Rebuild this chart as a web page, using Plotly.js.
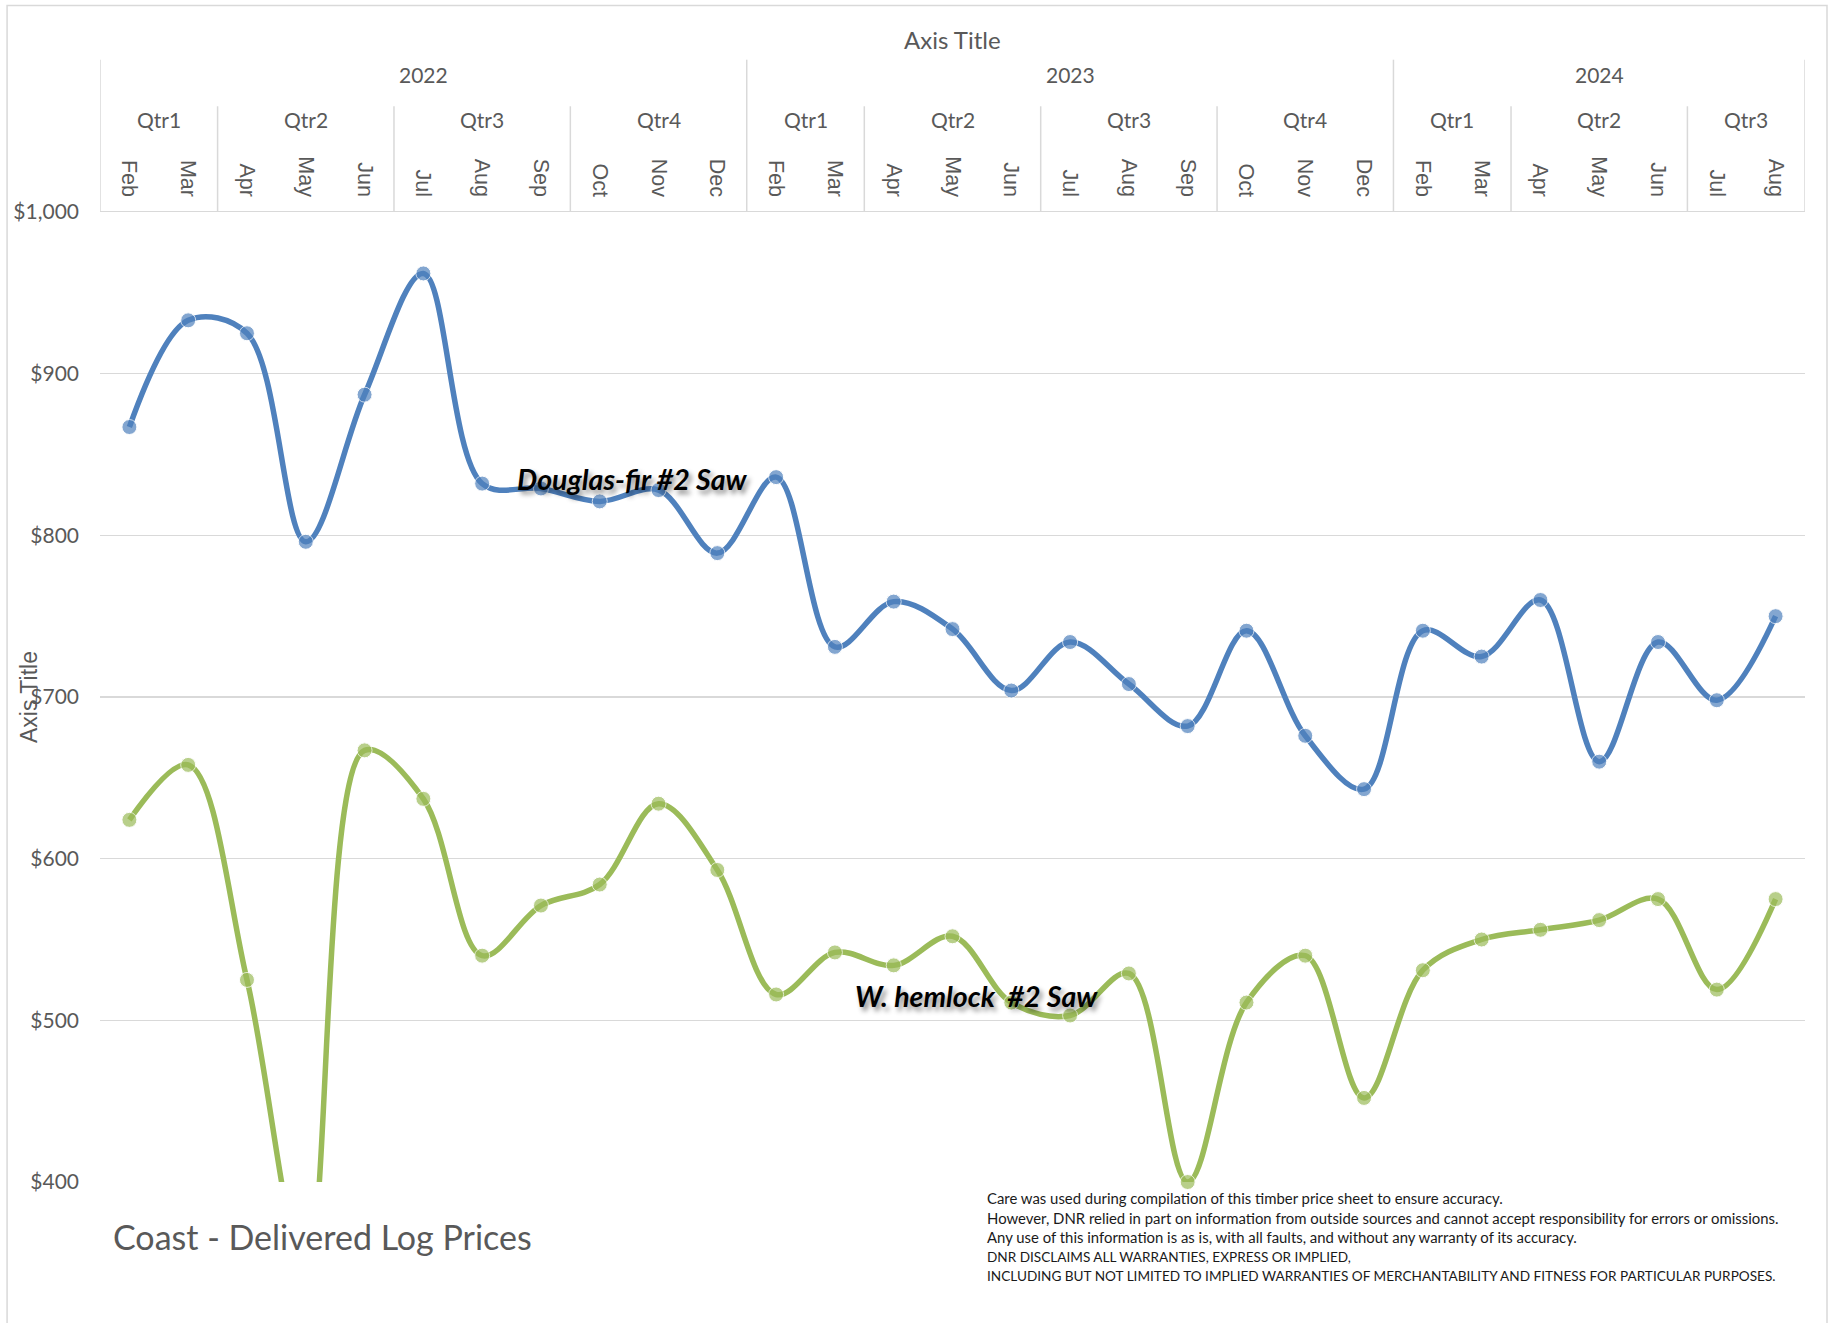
<!DOCTYPE html>
<html><head><meta charset="utf-8">
<script src="https://cdn.plot.ly/plotly-3.0.1.min.js"></script>
<style>html,body{margin:0;padding:0;background:#fff}#chart{width:1833px;height:1323px}</style>
</head><body><div id="chart"></div>
<script>
// ---- data ----
const months = ['Feb','Mar','Apr','May','Jun','Jul','Aug','Sep','Oct','Nov','Dec',
                'Feb','Mar','Apr','May','Jun','Jul','Aug','Sep','Oct','Nov','Dec',
                'Feb','Mar','Apr','May','Jun','Jul','Aug'];
const quarters = ['Qtr1','Qtr1','Qtr2','Qtr2','Qtr2','Qtr3','Qtr3','Qtr3','Qtr4','Qtr4','Qtr4',
                  'Qtr1','Qtr1','Qtr2','Qtr2','Qtr2','Qtr3','Qtr3','Qtr3','Qtr4','Qtr4','Qtr4',
                  'Qtr1','Qtr1','Qtr2','Qtr2','Qtr2','Qtr3','Qtr3'];
const years = ['2022','2022','2022','2022','2022','2022','2022','2022','2022','2022','2022',
               '2023','2023','2023','2023','2023','2023','2023','2023','2023','2023','2023',
               '2024','2024','2024','2024','2024','2024','2024'];
const douglasFir = [867,933,925,796,887,962,832,829,821,828,789,
                    836,731,759,742,704,734,708,682,741,676,643,
                    741,725,760,660,734,698,750];
const hemlock = [624,658,525,345,667,637,540,571,584,634,593,
                 516,542,534,552,511,503,529,400,511,540,452,
                 531,550,556,562,575,519,575];
const seriesNames = ['Douglas-fir #2 Saw','W. hemlock  #2 Saw'];
const yMin = 400, yMax = 1000;

// ---- build ----
const idx = months.map((_, i) => i);
const BLUE = '#4F81BD', GREEN = '#9BBB59', GRID = '#D9D9D9', TXT = '#595959';

function mk(vals, color, name) {
  return {
    x: idx, y: vals, name: name, type: 'scatter', mode: 'lines+markers',
    line: {color: color, width: 5.5, shape: 'spline', smoothing: 1},
    marker: {color: color, size: vals.map(v => (v < yMin || v > yMax) ? 0 : 15)},
    cliponaxis: false, hoverinfo: 'x+y'
  };
}
const traces = [mk(douglasFir, BLUE, seriesNames[0]), mk(hemlock, GREEN, seriesNames[1])];

function runs(keyFn) {
  const out = []; let s = 0;
  for (let i = 1; i <= months.length; i++) {
    if (i === months.length || keyFn(i) !== keyFn(s)) { out.push([s, i - 1]); s = i; }
  }
  return out;
}
const yearRuns = runs(i => years[i]);
const qtrRuns = runs(i => years[i] + quarters[i]);

const Y_YEAR_TOP = 1.157, Y_QTR_TOP = 1.109;
const shapes = [];
const ann = [];
const yearStarts = new Set(yearRuns.map(r => r[0]));
yearRuns.forEach(r => {
  shapes.push({type:'line', xref:'x', yref:'paper', x0:r[0]-0.5, x1:r[0]-0.5, y0:1, y1:Y_YEAR_TOP, line:{color:GRID, width:1.5}});
  ann.push({xref:'x', yref:'paper', x:(r[0]+r[1])/2, y:1.142, text:years[r[0]], showarrow:false,
            font:{family:'Lato', size:21, color:TXT}, xanchor:'center', yanchor:'middle'});
});
shapes.push({type:'line', xref:'x', yref:'paper', x0:months.length-0.5, x1:months.length-0.5, y0:1, y1:Y_YEAR_TOP, line:{color:GRID, width:1.5}});
qtrRuns.forEach(r => {
  if (!yearStarts.has(r[0]))
    shapes.push({type:'line', xref:'x', yref:'paper', x0:r[0]-0.5, x1:r[0]-0.5, y0:1, y1:Y_QTR_TOP, line:{color:GRID, width:1.5}});
  ann.push({xref:'x', yref:'paper', x:(r[0]+r[1])/2, y:1.0955, text:quarters[r[0]], showarrow:false,
            font:{family:'Lato', size:21, color:TXT}, xanchor:'center', yanchor:'middle'});
});
// outer chart border
shapes.push({type:'rect', xref:'paper', yref:'paper', x0:-0.0545, x1:1.0129, y0:-0.4, y1:1.213, line:{color:GRID, width:1.5}, layer:'below'});

ann.push({xref:'paper', yref:'paper', x:0.5, y:1.178, text:'Axis Title', showarrow:false,
          font:{family:'Lato', size:24, color:TXT}, xanchor:'center', yanchor:'middle'});
ann.push({xref:'paper', yref:'paper', x:-0.0416, y:0.5, text:'Axis Title', textangle:-90, showarrow:false,
          font:{family:'Liberation Sans', size:23, color:TXT}, xanchor:'center', yanchor:'middle'});
const shadow = '3px 4px 5px rgba(0,0,0,0.45)';
ann.push({xref:'x', yref:'y', x:8.55, y:835, text:'<b><i>' + seriesNames[0] + '</i></b>', showarrow:false,
          font:{family:'Lato', size:28.5, color:'#000', shadow:shadow}, xanchor:'center', yanchor:'middle'});
ann.push({xref:'x', yref:'y', x:14.41, y:515, text:'<b><i>' + seriesNames[1].replace('  ', '&nbsp; ') + '</i></b>', showarrow:false,
          font:{family:'Lato', size:28.5, color:'#000', shadow:shadow}, xanchor:'center', yanchor:'middle'});
ann.push({xref:'paper', yref:'paper', x:0.0065, y:-0.056, text:'Coast - Delivered Log Prices', showarrow:false,
          font:{family:'Lato', size:34, color:TXT}, xanchor:'left', yanchor:'middle'});
const disclaimer = [
  'Care was used during compilation of this timber price sheet to ensure accuracy.',
  'However, DNR relied in part on information from outside sources and cannot accept responsibility for errors or omissions.',
  'Any use of this information is as is, with all faults, and without any warranty of its accuracy.',
  'DNR DISCLAIMS ALL WARRANTIES, EXPRESS OR IMPLIED,',
  'INCLUDING BUT NOT LIMITED TO IMPLIED WARRANTIES OF MERCHANTABILITY AND FITNESS FOR PARTICULAR PURPOSES.'
];
disclaimer.forEach((line, k) => {
  const caps = line === line.toUpperCase();
  ann.push({xref:'paper', yref:'paper', x:0.519, y:-0.0169 - k*0.0201, text:line, showarrow:false, align:'left',
            font:{family:'Lato', size: caps ? 13.6 : 14.9, color:'#1a1a1a'}, xanchor:'left', yanchor:'middle'});
});

const layout = {
  width:1833, height:1323,
  margin:{l:100, r:28, t:212, b:141},
  paper_bgcolor:'#fff', plot_bgcolor:'#fff',
  showlegend:false,
  xaxis:{
    range:[-0.5, months.length-0.5], side:'top', tickmode:'array', tickvals:idx, ticktext:months,
    tickangle:90, ticks:'', showgrid:false, zeroline:false, showline:true, linecolor:GRID, linewidth:1.5,
    tickfont:{family:'Liberation Sans', size:21.5, color:TXT}, ticklabelstandoff:6, fixedrange:true
  },
  yaxis:{
    range:[yMin, yMax], dtick:100, tick0:0, tickprefix:'$', tickformat:',', ticks:'',
    showgrid:true, gridcolor:GRID, gridwidth:1.5, zeroline:false, showline:false,
    tickfont:{family:'Lato', size:21, color:TXT}, ticklabelstandoff:20, fixedrange:true
  },
  shapes:shapes, annotations:ann
};
Plotly.newPlot('chart', traces, layout, {displayModeBar:false, staticPlot:true});
</script></body></html>
